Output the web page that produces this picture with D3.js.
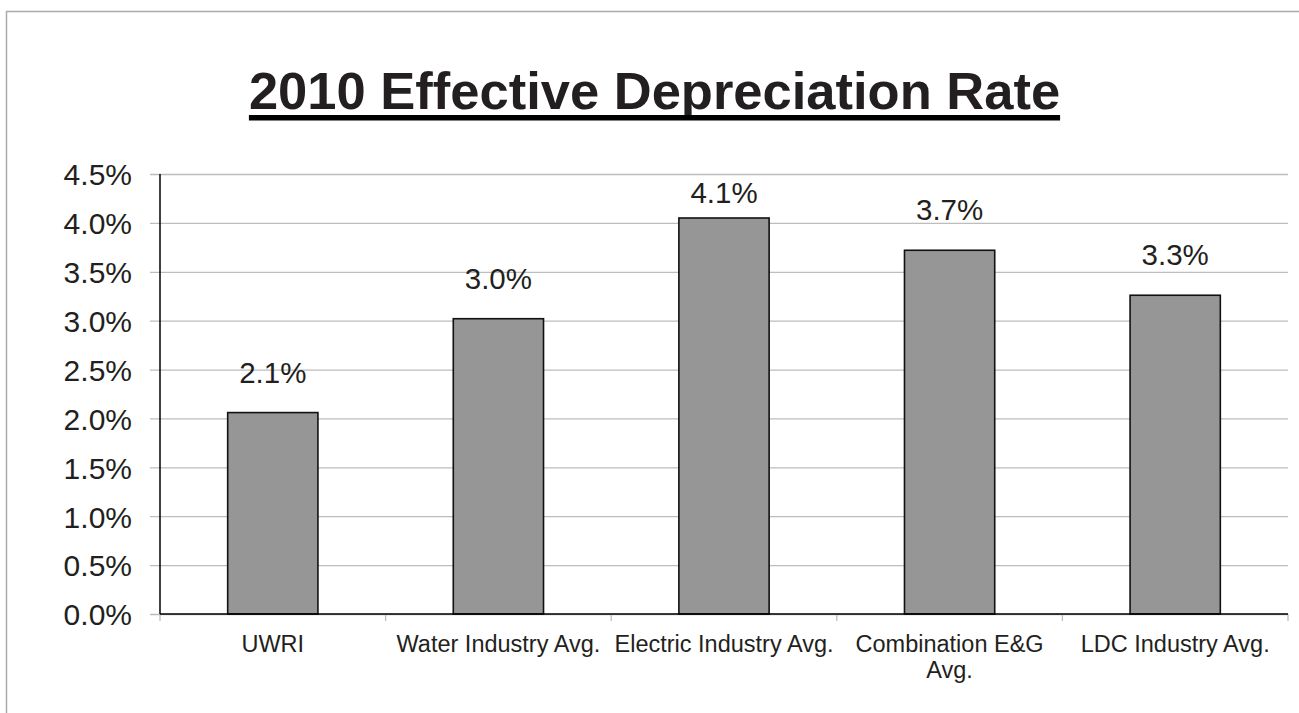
<!DOCTYPE html>
<html>
<head>
<meta charset="utf-8">
<script src="https://cdn.jsdelivr.net/npm/d3@7"></script>
<style>
  html, body { margin: 0; padding: 0; background: #fff; }
  svg { display: block; font-family: "Liberation Sans", Arial, sans-serif; }
</style>
</head>
<body>
<svg id="chart" width="1299" height="713"></svg>
<script>
const title = "2010 Effective Depreciation Rate";
const categories = ["UWRI", "Water Industry Avg.", "Electric Industry Avg.", "Combination E&G Avg.", "LDC Industry Avg."];
const values = [0.0206, 0.0302, 0.0405, 0.0372, 0.0326];
const valueLabels = ["2.1%", "3.0%", "4.1%", "3.7%", "3.3%"];
const yTicks = [0, 0.005, 0.01, 0.015, 0.02, 0.025, 0.03, 0.035, 0.04, 0.045];

const svg = d3.select("#chart");
const textColor = "#231f20";

// outer frame (top and left edges visible)
svg.append("rect")
  .attr("x", 6.5).attr("y", 11.5)
  .attr("width", 1400).attr("height", 800)
  .attr("fill", "none").attr("stroke", "#aaaaaa").attr("stroke-width", 1.5);

const plot = { left: 160, right: 1288, top: 174, bottom: 614 };

const x = d3.scaleBand()
  .domain(categories)
  .range([plot.left, plot.right])
  .paddingInner(0.6)
  .paddingOuter(0.3);

const y = d3.scaleLinear()
  .domain([0, 0.045])
  .range([plot.bottom, plot.top]);

// title
const t = svg.append("text")
  .attr("x", 654.5).attr("y", 109)
  .attr("text-anchor", "middle")
  .attr("font-size", 52.5).attr("font-weight", "bold")
  .attr("fill", textColor)
  .text(title);
const tb = t.node().getBBox();
svg.append("rect")
  .attr("x", tb.x).attr("y", 115)
  .attr("width", tb.width).attr("height", 5.5)
  .attr("fill", "#000");

// gridlines + y tick labels
const yAxis = d3.axisLeft(y)
  .tickValues(yTicks)
  .tickSize(-(plot.right - plot.left))
  .tickSizeOuter(0)
  .tickPadding(0)
  .tickFormat(d3.format(".1%"));
const gy = svg.append("g").attr("transform", `translate(${plot.left},0)`).call(yAxis);
gy.select(".domain").remove();
gy.selectAll(".tick line")
  .attr("x1", -10)
  .attr("stroke", "#bdbdbd").attr("stroke-width", 1.3);
gy.selectAll(".tick text")
  .attr("x", -28)
  .attr("dy", "0.36em")
  .attr("font-size", 30)
  .attr("font-family", "Liberation Sans, Arial, sans-serif")
  .attr("fill", textColor);

// x axis with ticks at band boundaries
const bounds = categories.map(c => x(c) - x.step() * x.paddingOuter()).concat([plot.right]);
svg.append("g").selectAll("line").data(bounds).join("line")
  .attr("x1", d => d).attr("x2", d => d)
  .attr("y1", plot.bottom).attr("y2", plot.bottom + 7)
  .attr("stroke", "#bdbdbd").attr("stroke-width", 1.3);

// bars
svg.append("g").selectAll("rect").data(categories).join("rect")
  .attr("x", d => x(d))
  .attr("width", x.bandwidth())
  .attr("y", (d, i) => y(values[i]))
  .attr("height", (d, i) => y(0) - y(values[i]))
  .attr("fill", "#969696")
  .attr("stroke", "#111").attr("stroke-width", 1.6);

// axis lines
svg.append("line")
  .attr("x1", plot.left).attr("x2", plot.left)
  .attr("y1", plot.top).attr("y2", plot.bottom)
  .attr("stroke", "#000").attr("stroke-width", 1.5);
svg.append("line")
  .attr("x1", plot.left).attr("x2", plot.right)
  .attr("y1", plot.bottom).attr("y2", plot.bottom)
  .attr("stroke", "#000").attr("stroke-width", 1.5);

// value labels (kept inside the plot area)
svg.append("g").selectAll("text").data(categories).join("text")
  .attr("x", d => x(d) + x.bandwidth() / 2)
  .attr("y", (d, i) => Math.max(y(values[i]) - 30, plot.top + 29))
  .attr("text-anchor", "middle")
  .attr("font-size", 29.5)
  .attr("fill", textColor)
  .text((d, i) => valueLabels[i]);

// category labels with wrapping
const labelG = svg.append("g");
categories.forEach(c => {
  const cx = x(c) + x.bandwidth() / 2;
  const txt = labelG.append("text")
    .attr("x", cx).attr("y", 652)
    .attr("text-anchor", "middle")
    .attr("font-size", 23.5)
    .attr("fill", textColor);
  const words = c.split(" ");
  let line = [];
  let tspan = txt.append("tspan").attr("x", cx).attr("dy", 0);
  words.forEach(w => {
    line.push(w);
    tspan.text(line.join(" "));
    if (tspan.node().getComputedTextLength() > x.step() && line.length > 1) {
      line.pop();
      tspan.text(line.join(" "));
      line = [w];
      tspan = txt.append("tspan").attr("x", cx).attr("dy", 26).text(w);
    }
  });
});
</script>
</body>
</html>
